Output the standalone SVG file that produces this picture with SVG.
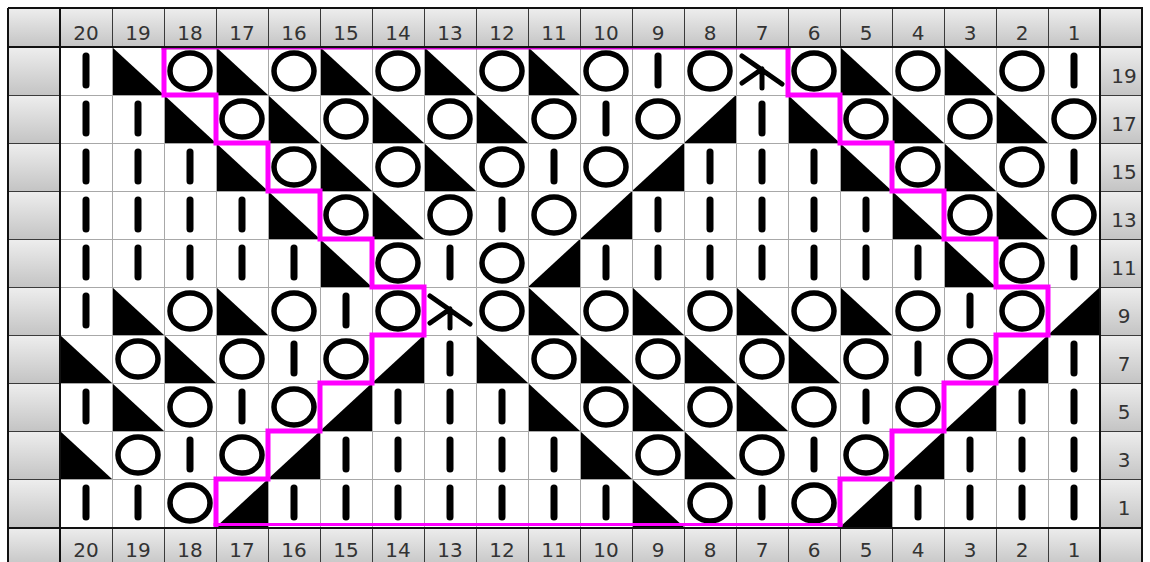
<svg xmlns="http://www.w3.org/2000/svg" xmlns:xlink="http://www.w3.org/1999/xlink" width="1150" height="562" viewBox="0 0 1150 562">
<style>
.lbl{font-family:"DejaVu Sans",Verdana,sans-serif;font-size:20px;fill:#333;text-anchor:middle}
.gl{stroke:#a8a8a8;stroke-width:1;shape-rendering:crispEdges}
.hl{stroke:#3a3a3a;stroke-width:1;shape-rendering:crispEdges}
.bar{stroke:#000;stroke-width:7;stroke-linecap:round}
.yo{fill:none;stroke:#000;stroke-width:5.5}
.x3{stroke:#000;stroke-width:5;stroke-linecap:round;fill:none}
.mg{fill:none;stroke:#ff00ff;stroke-width:5;stroke-linejoin:miter}
</style>
<defs>
<linearGradient id="gr" x1="0" y1="0" x2="0" y2="1">
<stop offset="0" stop-color="#eeeeee"/>
<stop offset="1" stop-color="#c4c4c4"/>
</linearGradient>
<g id="k"><line class="bar" x1="26" y1="9" x2="26" y2="38"/></g>
<g id="o"><ellipse class="yo" cx="26" cy="24" rx="20" ry="18"/></g>
<g id="d"><polygon points="0,0 0,48 52,48" fill="#000"/></g>
<g id="u"><polygon points="52,0 52,48 0,48" fill="#000"/></g>
<g id="x"><path class="x3" d="M6,9 L46,37 M26,22 L6,36 M26,22 L26,41"/></g>
</defs>
<rect x="0" y="0" width="1150" height="562" fill="#fff"/>
<g id="frame">
<rect x="8" y="8" width="1134" height="39" fill="url(#gr)"/>
<rect x="8" y="527" width="1134" height="40" fill="url(#gr)"/>
<g fill="url(#gr)">
<rect x="8" y="47" width="52" height="48"/><rect x="8" y="95" width="52" height="48"/><rect x="8" y="143" width="52" height="48"/><rect x="8" y="191" width="52" height="48"/><rect x="8" y="239" width="52" height="48"/><rect x="8" y="287" width="52" height="48"/><rect x="8" y="335" width="52" height="48"/><rect x="8" y="383" width="52" height="48"/><rect x="8" y="431" width="52" height="48"/><rect x="8" y="479" width="52" height="48"/>
<rect x="1100" y="47" width="42" height="48"/><rect x="1100" y="95" width="42" height="48"/><rect x="1100" y="143" width="42" height="48"/><rect x="1100" y="191" width="42" height="48"/><rect x="1100" y="239" width="42" height="48"/><rect x="1100" y="287" width="42" height="48"/><rect x="1100" y="335" width="42" height="48"/><rect x="1100" y="383" width="42" height="48"/><rect x="1100" y="431" width="42" height="48"/><rect x="1100" y="479" width="42" height="48"/>
</g>
<rect x="60" y="47" width="1040" height="480" fill="#fff"/>
</g>
<g id="stitches">
<!-- row 19 -->
<use xlink:href="#k" x="60" y="47"/><use xlink:href="#d" x="112" y="47"/><use xlink:href="#o" x="164" y="47"/><use xlink:href="#d" x="216" y="47"/><use xlink:href="#o" x="268" y="47"/><use xlink:href="#d" x="320" y="47"/><use xlink:href="#o" x="372" y="47"/><use xlink:href="#d" x="424" y="47"/><use xlink:href="#o" x="476" y="47"/><use xlink:href="#d" x="528" y="47"/><use xlink:href="#o" x="580" y="47"/><use xlink:href="#k" x="632" y="47"/><use xlink:href="#o" x="684" y="47"/><use xlink:href="#x" x="736" y="47"/><use xlink:href="#o" x="788" y="47"/><use xlink:href="#d" x="840" y="47"/><use xlink:href="#o" x="892" y="47"/><use xlink:href="#d" x="944" y="47"/><use xlink:href="#o" x="996" y="47"/><use xlink:href="#k" x="1048" y="47"/>
<!-- row 17 -->
<use xlink:href="#k" x="60" y="95"/><use xlink:href="#k" x="112" y="95"/><use xlink:href="#d" x="164" y="95"/><use xlink:href="#o" x="216" y="95"/><use xlink:href="#d" x="268" y="95"/><use xlink:href="#o" x="320" y="95"/><use xlink:href="#d" x="372" y="95"/><use xlink:href="#o" x="424" y="95"/><use xlink:href="#d" x="476" y="95"/><use xlink:href="#o" x="528" y="95"/><use xlink:href="#k" x="580" y="95"/><use xlink:href="#o" x="632" y="95"/><use xlink:href="#u" x="684" y="95"/><use xlink:href="#k" x="736" y="95"/><use xlink:href="#d" x="788" y="95"/><use xlink:href="#o" x="840" y="95"/><use xlink:href="#d" x="892" y="95"/><use xlink:href="#o" x="944" y="95"/><use xlink:href="#d" x="996" y="95"/><use xlink:href="#o" x="1048" y="95"/>
<!-- row 15 -->
<use xlink:href="#k" x="60" y="143"/><use xlink:href="#k" x="112" y="143"/><use xlink:href="#k" x="164" y="143"/><use xlink:href="#d" x="216" y="143"/><use xlink:href="#o" x="268" y="143"/><use xlink:href="#d" x="320" y="143"/><use xlink:href="#o" x="372" y="143"/><use xlink:href="#d" x="424" y="143"/><use xlink:href="#o" x="476" y="143"/><use xlink:href="#k" x="528" y="143"/><use xlink:href="#o" x="580" y="143"/><use xlink:href="#u" x="632" y="143"/><use xlink:href="#k" x="684" y="143"/><use xlink:href="#k" x="736" y="143"/><use xlink:href="#k" x="788" y="143"/><use xlink:href="#d" x="840" y="143"/><use xlink:href="#o" x="892" y="143"/><use xlink:href="#d" x="944" y="143"/><use xlink:href="#o" x="996" y="143"/><use xlink:href="#k" x="1048" y="143"/>
<!-- row 13 -->
<use xlink:href="#k" x="60" y="191"/><use xlink:href="#k" x="112" y="191"/><use xlink:href="#k" x="164" y="191"/><use xlink:href="#k" x="216" y="191"/><use xlink:href="#d" x="268" y="191"/><use xlink:href="#o" x="320" y="191"/><use xlink:href="#d" x="372" y="191"/><use xlink:href="#o" x="424" y="191"/><use xlink:href="#k" x="476" y="191"/><use xlink:href="#o" x="528" y="191"/><use xlink:href="#u" x="580" y="191"/><use xlink:href="#k" x="632" y="191"/><use xlink:href="#k" x="684" y="191"/><use xlink:href="#k" x="736" y="191"/><use xlink:href="#k" x="788" y="191"/><use xlink:href="#k" x="840" y="191"/><use xlink:href="#d" x="892" y="191"/><use xlink:href="#o" x="944" y="191"/><use xlink:href="#d" x="996" y="191"/><use xlink:href="#o" x="1048" y="191"/>
<!-- row 11 -->
<use xlink:href="#k" x="60" y="239"/><use xlink:href="#k" x="112" y="239"/><use xlink:href="#k" x="164" y="239"/><use xlink:href="#k" x="216" y="239"/><use xlink:href="#k" x="268" y="239"/><use xlink:href="#d" x="320" y="239"/><use xlink:href="#o" x="372" y="239"/><use xlink:href="#k" x="424" y="239"/><use xlink:href="#o" x="476" y="239"/><use xlink:href="#u" x="528" y="239"/><use xlink:href="#k" x="580" y="239"/><use xlink:href="#k" x="632" y="239"/><use xlink:href="#k" x="684" y="239"/><use xlink:href="#k" x="736" y="239"/><use xlink:href="#k" x="788" y="239"/><use xlink:href="#k" x="840" y="239"/><use xlink:href="#k" x="892" y="239"/><use xlink:href="#d" x="944" y="239"/><use xlink:href="#o" x="996" y="239"/><use xlink:href="#k" x="1048" y="239"/>
<!-- row 9 -->
<use xlink:href="#k" x="60" y="287"/><use xlink:href="#d" x="112" y="287"/><use xlink:href="#o" x="164" y="287"/><use xlink:href="#d" x="216" y="287"/><use xlink:href="#o" x="268" y="287"/><use xlink:href="#k" x="320" y="287"/><use xlink:href="#o" x="372" y="287"/><use xlink:href="#x" x="424" y="287"/><use xlink:href="#o" x="476" y="287"/><use xlink:href="#d" x="528" y="287"/><use xlink:href="#o" x="580" y="287"/><use xlink:href="#d" x="632" y="287"/><use xlink:href="#o" x="684" y="287"/><use xlink:href="#d" x="736" y="287"/><use xlink:href="#o" x="788" y="287"/><use xlink:href="#d" x="840" y="287"/><use xlink:href="#o" x="892" y="287"/><use xlink:href="#k" x="944" y="287"/><use xlink:href="#o" x="996" y="287"/><use xlink:href="#u" x="1048" y="287"/>
<!-- row 7 -->
<use xlink:href="#d" x="60" y="335"/><use xlink:href="#o" x="112" y="335"/><use xlink:href="#d" x="164" y="335"/><use xlink:href="#o" x="216" y="335"/><use xlink:href="#k" x="268" y="335"/><use xlink:href="#o" x="320" y="335"/><use xlink:href="#u" x="372" y="335"/><use xlink:href="#k" x="424" y="335"/><use xlink:href="#d" x="476" y="335"/><use xlink:href="#o" x="528" y="335"/><use xlink:href="#d" x="580" y="335"/><use xlink:href="#o" x="632" y="335"/><use xlink:href="#d" x="684" y="335"/><use xlink:href="#o" x="736" y="335"/><use xlink:href="#d" x="788" y="335"/><use xlink:href="#o" x="840" y="335"/><use xlink:href="#k" x="892" y="335"/><use xlink:href="#o" x="944" y="335"/><use xlink:href="#u" x="996" y="335"/><use xlink:href="#k" x="1048" y="335"/>
<!-- row 5 -->
<use xlink:href="#k" x="60" y="383"/><use xlink:href="#d" x="112" y="383"/><use xlink:href="#o" x="164" y="383"/><use xlink:href="#k" x="216" y="383"/><use xlink:href="#o" x="268" y="383"/><use xlink:href="#u" x="320" y="383"/><use xlink:href="#k" x="372" y="383"/><use xlink:href="#k" x="424" y="383"/><use xlink:href="#k" x="476" y="383"/><use xlink:href="#d" x="528" y="383"/><use xlink:href="#o" x="580" y="383"/><use xlink:href="#d" x="632" y="383"/><use xlink:href="#o" x="684" y="383"/><use xlink:href="#d" x="736" y="383"/><use xlink:href="#o" x="788" y="383"/><use xlink:href="#k" x="840" y="383"/><use xlink:href="#o" x="892" y="383"/><use xlink:href="#u" x="944" y="383"/><use xlink:href="#k" x="996" y="383"/><use xlink:href="#k" x="1048" y="383"/>
<!-- row 3 -->
<use xlink:href="#d" x="60" y="431"/><use xlink:href="#o" x="112" y="431"/><use xlink:href="#k" x="164" y="431"/><use xlink:href="#o" x="216" y="431"/><use xlink:href="#u" x="268" y="431"/><use xlink:href="#k" x="320" y="431"/><use xlink:href="#k" x="372" y="431"/><use xlink:href="#k" x="424" y="431"/><use xlink:href="#k" x="476" y="431"/><use xlink:href="#k" x="528" y="431"/><use xlink:href="#d" x="580" y="431"/><use xlink:href="#o" x="632" y="431"/><use xlink:href="#d" x="684" y="431"/><use xlink:href="#o" x="736" y="431"/><use xlink:href="#k" x="788" y="431"/><use xlink:href="#o" x="840" y="431"/><use xlink:href="#u" x="892" y="431"/><use xlink:href="#k" x="944" y="431"/><use xlink:href="#k" x="996" y="431"/><use xlink:href="#k" x="1048" y="431"/>
<!-- row 1 -->
<use xlink:href="#k" x="60" y="479"/><use xlink:href="#k" x="112" y="479"/><use xlink:href="#o" x="164" y="479"/><use xlink:href="#u" x="216" y="479"/><use xlink:href="#k" x="268" y="479"/><use xlink:href="#k" x="320" y="479"/><use xlink:href="#k" x="372" y="479"/><use xlink:href="#k" x="424" y="479"/><use xlink:href="#k" x="476" y="479"/><use xlink:href="#k" x="528" y="479"/><use xlink:href="#k" x="580" y="479"/><use xlink:href="#d" x="632" y="479"/><use xlink:href="#o" x="684" y="479"/><use xlink:href="#k" x="736" y="479"/><use xlink:href="#o" x="788" y="479"/><use xlink:href="#u" x="840" y="479"/><use xlink:href="#k" x="892" y="479"/><use xlink:href="#k" x="944" y="479"/><use xlink:href="#k" x="996" y="479"/><use xlink:href="#k" x="1048" y="479"/>
</g>
<g id="grid">
<path class="gl" d="M112,47V527M164,47V527M216,47V527M268,47V527M320,47V527M372,47V527M424,47V527M476,47V527M528,47V527M580,47V527M632,47V527M684,47V527M736,47V527M788,47V527M840,47V527M892,47V527M944,47V527M996,47V527M1048,47V527"/>
<path class="gl" d="M60,95H1100M60,143H1100M60,191H1100M60,239H1100M60,287H1100M60,335H1100M60,383H1100M60,431H1100M60,479H1100"/>
</g>
<g id="outline">
<path class="mg" d="M164,47 V95 H216 V143 H268 V191 H320 V239 H372 V287 H424 V335 H372 V383 H320 V431 H268 V479 H216 V527"/>
<path class="mg" d="M788,47 V95 H840 V143 H892 V191 H944 V239 H996 V287 H1048 V335 H996 V383 H944 V431 H892 V479 H840 V527"/>
<path d="M161.5,48.5 H790.5" stroke="#d000d0" stroke-width="2" fill="none"/>
<path d="M213.5,524.5 H842.5" stroke="#ff00ff" stroke-width="3" fill="none"/>
</g>
<g id="borders">
<path class="hl" d="M60,8V47M112,8V47M164,8V47M216,8V47M268,8V47M320,8V47M372,8V47M424,8V47M476,8V47M528,8V47M580,8V47M632,8V47M684,8V47M736,8V47M788,8V47M840,8V47M892,8V47M944,8V47M996,8V47M1048,8V47M1100,8V47"/>
<path class="hl" d="M60,527V562M112,527V562M164,527V562M216,527V562M268,527V562M320,527V562M372,527V562M424,527V562M476,527V562M528,527V562M580,527V562M632,527V562M684,527V562M736,527V562M788,527V562M840,527V562M892,527V562M944,527V562M996,527V562M1048,527V562M1100,527V562"/>
<path class="hl" d="M8,95H60M8,143H60M8,191H60M8,239H60M8,287H60M8,335H60M8,383H60M8,431H60M8,479H60M1100,95H1142M1100,143H1142M1100,191H1142M1100,239H1142M1100,287H1142M1100,335H1142M1100,383H1142M1100,431H1142M1100,479H1142"/>
<path d="M8,8H1142V562M8,8V562M8,46.5H1142M8,527.5H1142M60,8V562M1100,8V562" fill="none" stroke="#111" stroke-width="2" shape-rendering="crispEdges"/>
</g>
<g id="labels">
<g class="lbl">
<text x="86" y="40">20</text><text x="138" y="40">19</text><text x="190" y="40">18</text><text x="242" y="40">17</text><text x="294" y="40">16</text><text x="346" y="40">15</text><text x="398" y="40">14</text><text x="450" y="40">13</text><text x="502" y="40">12</text><text x="554" y="40">11</text><text x="606" y="40">10</text><text x="658" y="40">9</text><text x="710" y="40">8</text><text x="762" y="40">7</text><text x="814" y="40">6</text><text x="866" y="40">5</text><text x="918" y="40">4</text><text x="970" y="40">3</text><text x="1022" y="40">2</text><text x="1074" y="40">1</text>
<text x="86" y="557">20</text><text x="138" y="557">19</text><text x="190" y="557">18</text><text x="242" y="557">17</text><text x="294" y="557">16</text><text x="346" y="557">15</text><text x="398" y="557">14</text><text x="450" y="557">13</text><text x="502" y="557">12</text><text x="554" y="557">11</text><text x="606" y="557">10</text><text x="658" y="557">9</text><text x="710" y="557">8</text><text x="762" y="557">7</text><text x="814" y="557">6</text><text x="866" y="557">5</text><text x="918" y="557">4</text><text x="970" y="557">3</text><text x="1022" y="557">2</text><text x="1074" y="557">1</text>
<text x="1124" y="83">19</text><text x="1124" y="131">17</text><text x="1124" y="179">15</text><text x="1124" y="227">13</text><text x="1124" y="275">11</text><text x="1124" y="323">9</text><text x="1124" y="371">7</text><text x="1124" y="419">5</text><text x="1124" y="467">3</text><text x="1124" y="515">1</text>
</g>
</g>
</svg>
